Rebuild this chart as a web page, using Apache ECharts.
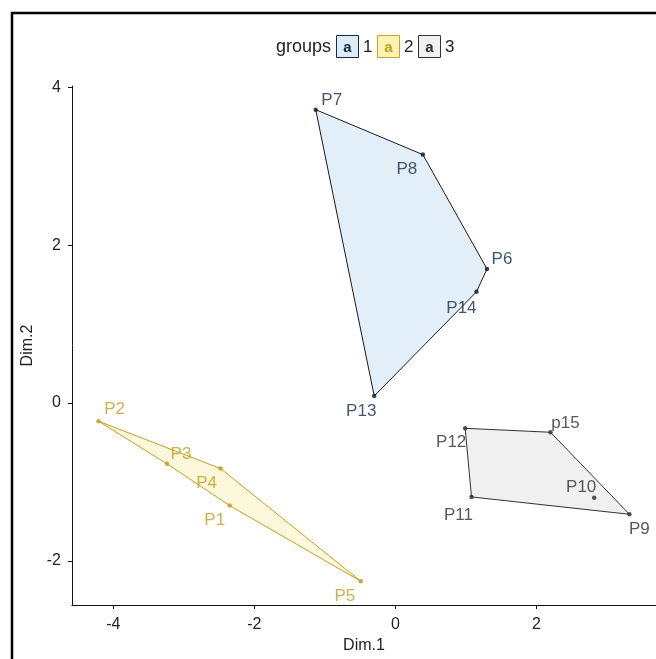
<!DOCTYPE html>
<html>
<head>
<meta charset="utf-8">
<script src="https://cdn.jsdelivr.net/npm/echarts@6/dist/echarts.min.js"></script>
<style>html,body{margin:0;padding:0;background:#fff;}#c{width:656px;height:659px;}</style>
</head>
<body>
<div id="c"></div>
<script>
const names  = ['P1','P2','P3','P4','P5','P6','P7','P8','P9','P10','P11','P12','P13','P14','p15'];
const dim1   = [-2.35,-4.21,-3.24,-2.48,-0.49, 1.30,-1.13, 0.39, 3.32, 2.82, 1.08, 0.99,-0.30, 1.15, 2.20];
const dim2   = [-1.30,-0.23,-0.77,-0.83,-2.26, 1.70, 3.72, 3.15,-1.41,-1.20,-1.19,-0.32, 0.09, 1.41,-0.37];
const groups = [2,2,2,2,2,1,1,1,3,3,3,3,1,1,3];
const groupNames = ['1','2','3'];
const hull1 = ['P7','P8','P6','P14','P13'];
const hull2 = ['P2','P4','P5','P1','P3'];
const hull3 = ['P12','p15','P9','P11'];
const xTicks = [-4,-2,0,2];
const yTicks = [-2,0,2,4];

// styling
const FONT = 'Liberation Sans, Arial, sans-serif';
const style = {
  '1': {text:'#102a4a', point:'#111820', edge:'#1a1a1a', fill:'#e3eff8', keyFill:'#deebf7', keyEdge:'#102a4a'},
  '2': {text:'#c09c22', point:'#bf981c', edge:'#c4a020', fill:'#fdf7dc', keyFill:'#fbf2b4', keyEdge:'#c9a227'},
  '3': {text:'#2e2e2e', point:'#2a2a2a', edge:'#333333', fill:'#f0f0f0', keyFill:'#f0f0f0', keyEdge:'#333333'}
};
const labelOffset = {
  P1:[-15,15], P2:[16,-12], P3:[14,-10], P4:[-14,15], P5:[-16,15],
  P6:[15,-10], P7:[16,-9], P8:[-16,15], P9:[10,15], P10:[-13,-10],
  P11:[-13,18], P12:[-14,14], P13:[-13,15], P14:[-15,16], p15:[15,-9]
};

const hulls = [hull1, hull2, hull3];
const series = [];
hulls.forEach((h, gi) => {
  const g = groupNames[gi];
  const pts = h.map(n => { const i = names.indexOf(n); return [dim1[i], dim2[i]]; });
  series.push({
    type: 'custom',
    name: 'hull' + g,
    data: pts,
    z: 1,
    silent: true,
    renderItem: function (params, api) {
      if (params.dataIndex !== 0) return null;
      const poly = pts.map(p => api.coord(p));
      return {
        type: 'polygon',
        shape: { points: poly },
        style: { fill: style[g].fill, stroke: style[g].edge, lineWidth: 1 }
      };
    }
  });
});
groupNames.forEach(g => {
  const data = [];
  names.forEach((n, i) => {
    if (String(groups[i]) === g) {
      data.push({
        name: n,
        value: [dim1[i], dim2[i]],
        label: { offset: labelOffset[n] }
      });
    }
  });
  series.push({
    type: 'scatter',
    name: g,
    data: data,
    z: 3,
    symbol: 'circle',
    symbolSize: 4.5,
    itemStyle: { color: style[g].point },
    label: {
      show: true,
      position: 'inside',
      formatter: p => p.name,
      color: style[g].text,
      fontSize: 17,
      fontFamily: FONT
    }
  });
});

// legend graphics
const graphic = [
  { type: 'rect', shape: { x: 12, y: 13, width: 700, height: 700 }, style: { fill: 'none', stroke: '#000', lineWidth: 2.5 }, z: 10 },
  { type: 'text', style: { x: 331, y: 47, text: 'groups', align: 'right', verticalAlign: 'middle', fill: '#222', fontSize: 18, fontFamily: FONT } }
];
groupNames.forEach((g, i) => {
  const x0 = 336 + i * 41;
  graphic.push({ type: 'rect', shape: { x: x0 + 0.5, y: 35.5, width: 22, height: 22 }, style: { fill: style[g].keyFill, stroke: style[g].keyEdge, lineWidth: 1 } });
  graphic.push({ type: 'text', style: { x: x0 + 11.5, y: 47.5, text: 'a', align: 'center', verticalAlign: 'middle', fill: style[g].text, fontSize: 15, fontWeight: 'bold', fontFamily: FONT } });
  graphic.push({ type: 'text', style: { x: x0 + 27, y: 47, text: g, align: 'left', verticalAlign: 'middle', fill: '#222', fontSize: 17, fontFamily: FONT } });
});

const chart = echarts.init(document.getElementById('c'), null, { renderer: 'canvas' });
chart.setOption({
  animation: false,
  backgroundColor: '#ffffff',
  grid: { left: 72, top: 86, right: -4, bottom: 51, containLabel: false },
  xAxis: {
    type: 'value', min: -4.587, max: 3.697,
    name: 'Dim.1', nameLocation: 'middle', nameGap: 33,
    nameTextStyle: { color: '#222', fontSize: 16, fontFamily: FONT },
    axisLine: { show: true, onZero: false, lineStyle: { color: '#111', width: 1 } },
    axisTick: { show: true, length: 4, customValues: xTicks, lineStyle: { color: '#111' } },
    axisLabel: { customValues: xTicks, color: '#222', fontSize: 16, fontFamily: FONT, margin: 12 },
    splitLine: { show: false }
  },
  yAxis: {
    type: 'value', min: -2.56, max: 4.02,
    name: 'Dim.2', nameLocation: 'middle', nameGap: 31, nameRotate: 90,
    nameTextStyle: { color: '#222', fontSize: 16, fontFamily: FONT },
    axisLine: { show: true, onZero: false, lineStyle: { color: '#111', width: 1 } },
    axisTick: { show: true, length: 4, customValues: yTicks, lineStyle: { color: '#111' } },
    axisLabel: { customValues: yTicks, color: '#222', fontSize: 16, fontFamily: FONT, margin: 11 },
    splitLine: { show: false }
  },
  series: series,
  graphic: graphic
});
</script>
</body>
</html>
